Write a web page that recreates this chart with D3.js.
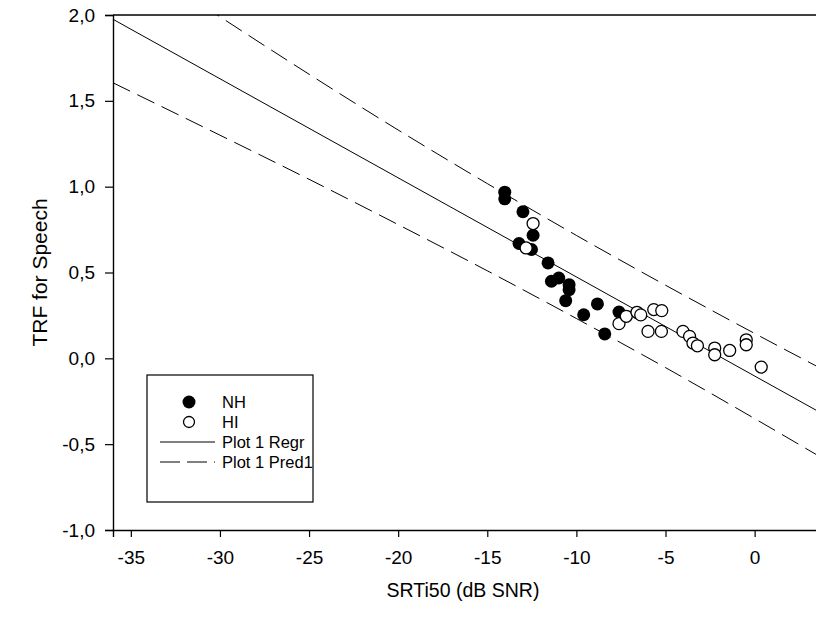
<!DOCTYPE html>
<html>
<head>
<meta charset="utf-8">
<script src="https://cdn.jsdelivr.net/npm/d3@7"></script>
<style>
  body { margin: 0; background: #fff; }
  svg text { font-family: "Liberation Sans", Arial, sans-serif; fill: #000; }
</style>
</head>
<body>
<div id="chart"></div>
<script>
// NH group (filled)
const nhX = [-14.02, -14.02, -13.0, -12.43, -13.22, -12.52, -11.59, -11.40, -10.99, -10.41, -10.41, -10.60, -8.82, -9.59, -8.41, -7.61];
const nhY = [0.968, 0.929, 0.854, 0.717, 0.669, 0.634, 0.556, 0.449, 0.468, 0.429, 0.400, 0.336, 0.317, 0.254, 0.142, 0.270];

// HI group (open)
const hiX = [-12.43, -12.82, -7.61, -7.20, -6.60, -6.39, -5.66, -5.21, -5.98, -5.23, -4.02, -3.65, -3.46, -3.21, -2.24, -2.24, -1.40, -0.47, -0.47, 0.37];
const hiY = [0.785, 0.643, 0.202, 0.245, 0.268, 0.253, 0.284, 0.278, 0.157, 0.157, 0.157, 0.128, 0.089, 0.073, 0.060, 0.021, 0.046, 0.108, 0.079, -0.051];

// regression line and prediction band
const regrX = [-36, 3.5];
const regrY = [1.975, -0.305];
const bandX = [-36, -30, -25, -20, -15, -10, -5, 0, 3.5];
const upperY = [2.40, 1.99, 1.655, 1.330, 1.018, 0.716, 0.426, 0.145, -0.047];
const lowerY = [1.605, 1.300, 1.043, 0.779, 0.510, 0.232, -0.054, -0.351, -0.563];

const xTicks = [-35, -30, -25, -20, -15, -10, -5, 0];
const yTicks = [-1.0, -0.5, 0.0, 0.5, 1.0, 1.5, 2.0];

const legendItems = ["NH", "HI", "Plot 1 Regr", "Plot 1 Pred1"];

const W = 816, H = 617;
const pLeft = 113, pRight = 817, pTop = 15, pBottom = 530;

const svg = d3.select("#chart").append("svg")
    .attr("width", W)
    .attr("height", H);

const x = d3.scaleLinear().domain([-36, 3.5]).range([pLeft, pRight]);
const y = d3.scaleLinear().domain([-1, 2]).range([pBottom, pTop]);

const loc = d3.formatLocale({decimal: ",", thousands: ".", grouping: [3], currency: ["", ""], minus: "-"});
const fmtY = loc.format(".1f");
const fmtX = loc.format("d");

svg.append("defs").append("clipPath")
    .attr("id", "plotClip")
    .append("rect")
    .attr("x", pLeft).attr("y", pTop)
    .attr("width", pRight - pLeft).attr("height", pBottom - pTop);

// axes
const xAxis = svg.append("g")
    .attr("transform", "translate(0," + pBottom + ")")
    .call(d3.axisBottom(x).tickValues(xTicks).tickFormat(fmtX).tickSize(7).tickPadding(14));
const yAxis = svg.append("g")
    .attr("transform", "translate(" + pLeft + ",0)")
    .call(d3.axisLeft(y).tickValues(yTicks).tickFormat(fmtY).tickSize(8).tickPadding(10));

[xAxis, yAxis].forEach(g => {
    g.select(".domain").attr("stroke", "#000").attr("stroke-width", 1.4);
    g.selectAll(".tick line").attr("stroke", "#000").attr("stroke-width", 1.2);
    g.selectAll(".tick text").attr("font-size", 19).attr("font-family", "Liberation Sans, Arial, sans-serif").attr("fill", "#000");
});
xAxis.selectAll(".tick text").attr("dy", "0.71em");

// top frame line
svg.append("line")
    .attr("x1", pLeft).attr("x2", pRight)
    .attr("y1", pTop).attr("y2", pTop)
    .attr("stroke", "#000").attr("stroke-width", 1.6);

// axis titles
svg.append("text")
    .attr("x", 463)
    .attr("y", 597)
    .attr("text-anchor", "middle")
    .attr("font-size", 19.5)
    .text("SRTi50 (dB SNR)");

svg.append("text")
    .attr("transform", "translate(47," + y(0.5) + ") rotate(-90)")
    .attr("text-anchor", "middle")
    .attr("font-size", 21)
    .text("TRF for Speech");

// lines
const plot = svg.append("g").attr("clip-path", "url(#plotClip)");

const line = d3.line().x(d => x(d[0])).y(d => y(d[1]));
const lineCurve = d3.line().x(d => x(d[0])).y(d => y(d[1])).curve(d3.curveMonotoneX);

plot.append("path")
    .datum(d3.zip(regrX, regrY))
    .attr("d", line)
    .attr("fill", "none").attr("stroke", "#000").attr("stroke-width", 1);

[upperY, lowerY].forEach(arr => {
    plot.append("path")
        .datum(d3.zip(bandX, arr))
        .attr("d", lineCurve)
        .attr("fill", "none").attr("stroke", "#000").attr("stroke-width", 1)
        .attr("stroke-dasharray", "19,8");
});

// points
plot.append("g").selectAll("circle")
    .data(d3.zip(nhX, nhY))
    .enter().append("circle")
    .attr("cx", d => x(d[0])).attr("cy", d => y(d[1]))
    .attr("r", 6.5)
    .attr("fill", "#000");

plot.append("g").selectAll("circle")
    .data(d3.zip(hiX, hiY))
    .enter().append("circle")
    .attr("cx", d => x(d[0])).attr("cy", d => y(d[1]))
    .attr("r", 6)
    .attr("fill", "#fff").attr("stroke", "#000").attr("stroke-width", 1.3);

// legend
const lg = svg.append("g").attr("transform", "translate(147,375)");
lg.append("rect")
    .attr("width", 166).attr("height", 127)
    .attr("fill", "#fff").attr("stroke", "#000").attr("stroke-width", 1.2);

const rowY = i => 27 + i * 20;
lg.append("circle").attr("cx", 42).attr("cy", rowY(0)).attr("r", 6.5).attr("fill", "#000");
lg.append("circle").attr("cx", 42).attr("cy", rowY(1)).attr("r", 5.5)
    .attr("fill", "#fff").attr("stroke", "#000").attr("stroke-width", 1.3);
lg.append("line").attr("x1", 13).attr("x2", 68).attr("y1", rowY(2)).attr("y2", rowY(2))
    .attr("stroke", "#000").attr("stroke-width", 1);
lg.append("line").attr("x1", 13).attr("x2", 68).attr("y1", rowY(3)).attr("y2", rowY(3))
    .attr("stroke", "#000").attr("stroke-width", 1).attr("stroke-dasharray", "20,7");

lg.selectAll("text.lbl")
    .data(legendItems)
    .enter().append("text")
    .attr("class", "lbl")
    .attr("x", 75)
    .attr("y", (d, i) => rowY(i))
    .attr("dy", "0.35em")
    .attr("font-size", 16.5)
    .text(d => d);
</script>
</body>
</html>
